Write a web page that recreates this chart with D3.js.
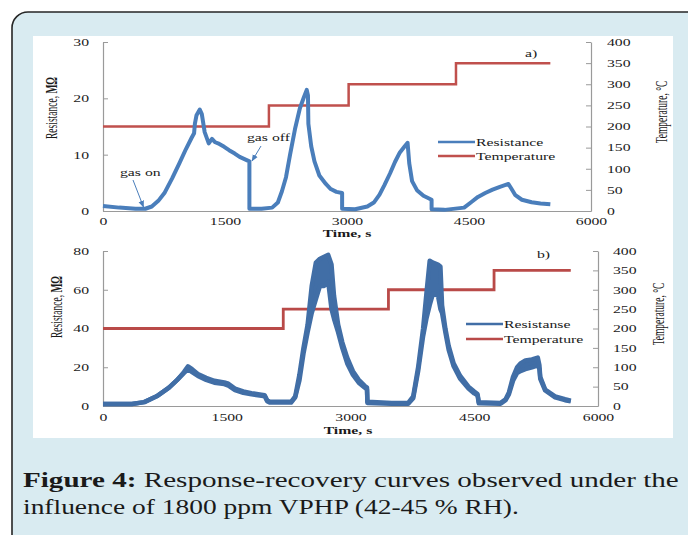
<!DOCTYPE html>
<html>
<head>
<meta charset="utf-8">
<script src="https://cdn.jsdelivr.net/npm/d3@7"></script>
<style>
  html, body { margin: 0; padding: 0; background: #ffffff; }
  svg { display: block; }
  text { font-family: "Liberation Serif", "Times New Roman", serif; }
</style>
</head>
<body>
<svg id="fig" width="688" height="535"></svg>
<script>
// ---------- tick labels ----------
const timeTicks = [0, 1500, 3000, 4500, 6000];
const resTicksA = [0, 10, 20, 30];
const resTicksB = [0, 20, 40, 60, 80];
const tempTicks = [0, 50, 100, 150, 200, 250, 300, 350, 400];

// ---------- panel a: resistance (MΩ) vs time (s) ----------
const timeA = [0, 200, 400, 520, 600, 680, 760, 850, 940, 1020, 1090, 1120, 1130, 1150, 1190, 1215,
  1250, 1300, 1340, 1380, 1430, 1490, 1550, 1620, 1680, 1740, 1800, 1800, 1950, 2080, 2150, 2200,
  2250, 2300, 2360, 2420, 2470, 2505, 2520, 2525, 2560, 2600, 2660, 2740, 2800, 2870, 2940, 2940,
  3100, 3250, 3330, 3400, 3460, 3530, 3590, 3650, 3710, 3745, 3765, 3800, 3860, 3940, 4040, 4040,
  4200, 4440, 4530, 4610, 4700, 4790, 4880, 4985, 5020, 5070, 5150, 5270, 5380, 5500];
const resA = [0.9, 0.6, 0.4, 0.4, 0.8, 1.8, 3.3, 5.8, 8.5, 11.0, 13.0, 13.8, 15.5, 17.0, 18.0, 17.2,
  14.0, 12.0, 12.8, 12.2, 11.9, 11.4, 10.8, 10.2, 9.6, 9.2, 8.8, 0.4, 0.4, 0.6, 1.5, 3.5,
  6.0, 10.0, 14.5, 18.2, 20.2, 21.5, 20.5, 15.5, 11.5, 8.8, 6.3, 4.8, 3.9, 3.4, 3.2, 0.4,
  0.3, 0.8, 1.5, 2.9, 4.6, 6.7, 8.7, 10.4, 11.5, 12.1, 8.5, 5.3, 3.7, 2.7, 2.0, 0.3,
  0.2, 0.6, 1.6, 2.5, 3.2, 3.8, 4.3, 4.8, 4.0, 2.8, 2.0, 1.55, 1.35, 1.2];
// panel a: heater temperature (°C), step changes
const tempTimeA = [0, 2040, 3020, 4340, 5500];
const tempA = [200, 250, 300, 350, 350];

// ---------- panel b: resistance band (upper / lower envelope, MΩ) ----------
const timeB = [0, 350, 500, 650, 800, 900, 980, 1030, 1080, 1150, 1250, 1350, 1470, 1520, 1600,
  1700, 1800, 1900, 1960, 1990, 2020, 2280, 2330, 2380, 2430, 2480, 2530, 2580, 2630, 2680, 2730,
  2770, 2800, 2850, 2900, 2960, 3030, 3100, 3170, 3200, 3205, 3500, 3700, 3760, 3820, 3880, 3920,
  3960, 4000, 4060, 4090, 4110, 4150, 4190, 4250, 4330, 4430, 4500, 4540, 4555, 4820, 4880, 4920,
  4970, 5020, 5060, 5120, 5200, 5270, 5290, 5300, 5360, 5480, 5600, 5670];
const resUpperB = [1.0, 1.0, 2.0, 5.0, 9.5, 13.5, 17.5, 20.5, 19.0, 16.5, 14.5, 13.0, 12.2, 11.5, 9.0,
  7.5, 6.6, 6.0, 5.6, 3.0, 2.2, 2.2, 5.0, 16, 30, 42, 62, 74, 76, 77, 78,
  73, 57, 42, 33, 25, 18, 13.5, 10.5, 9.5, 2.2, 1.6, 1.6, 5.0, 20, 40, 58,
  75, 74, 73, 72, 52, 40, 31, 22, 15.5, 10, 7.5, 6.2, 2.0, 1.6, 3.5, 7.0,
  15, 20, 22, 23.5, 24, 25, 21, 15, 8.5, 5.0, 3.5, 2.7];
const resLowerB = [1.0, 1.0, 2.0, 5.0, 9.5, 13.5, 17.0, 19.0, 17.5, 15.5, 13.5, 12.0, 11.3, 10.5, 8.2,
  6.8, 6.0, 5.4, 5.0, 2.5, 1.8, 1.8, 4.5, 13, 27, 38, 48, 55, 62, 62, 64,
  50, 45, 38, 30, 22, 16, 12, 9.5, 8.5, 1.6, 1.2, 1.2, 4.0, 18, 36, 45,
  52, 58, 57, 50, 48, 38, 29, 20.5, 14, 9, 6.5, 5.5, 1.4, 1.2, 3.0, 6.0,
  13, 17, 18, 19, 20, 21, 19, 14, 8.0, 4.5, 3.0, 2.4];
// panel b: heater temperature (°C)
const tempTimeB = [0, 2185, 3460, 4740, 5670];
const tempB = [200, 250, 300, 350, 350];

// ---------- caption ----------
const captionBold = "Figure 4:";
const captionRest = " Response-recovery curves observed under the";
const captionLine2 = "influence of 1800 ppm VPHP (42-45 % RH).";

// ---------- drawing ----------
const SX = 1.5;            // horizontal stretch of chart lettering
const SXV = 1.8;           // stretch across the rotated axis titles
const FS = 10.5;           // chart font size
const AXIS_GREY = "#9a9a9a";

const svg = d3.select("#fig");

// frame
svg.append("rect").attr("x", 12).attr("y", 12).attr("width", 760).attr("height", 620)
  .attr("rx", 16).attr("fill", "#d9ebf1").attr("stroke", "#262626").attr("stroke-width", 1.6);
svg.append("rect").attr("x", 33).attr("y", 36).attr("width", 640).attr("height", 402)
  .attr("fill", "#ffffff");

const defs = svg.append("defs");
defs.append("marker").attr("id", "arrowBlue").attr("viewBox", "0 0 10 10")
  .attr("refX", 9).attr("refY", 5).attr("markerWidth", 7).attr("markerHeight", 7)
  .attr("orient", "auto").attr("markerUnits", "userSpaceOnUse")
  .append("path").attr("d", "M0,1 L10,5 L0,9 z").attr("fill", "#4a7ebb");

function hText(g, x, y, str, anchor, size, weight) {
  return g.append("text")
    .attr("transform", `translate(${x},${y}) scale(${SX},1)`)
    .attr("text-anchor", anchor || "start")
    .attr("font-size", size || FS)
    .attr("font-weight", weight || "normal")
    .attr("fill", "#1a1a1a")
    .text(str);
}

function vText(g, x, y, size) {
  return g.append("text")
    .attr("transform", `translate(${x},${y}) scale(${SXV},1) rotate(-90)`)
    .attr("text-anchor", "middle")
    .attr("font-size", size)
    .attr("fill", "#1a1a1a");
}

function drawPanel(p) {
  const g = svg.append("g");
  const x = d3.scaleLinear().domain([0, 6000]).range([p.left, p.right]);
  const yR = d3.scaleLinear().domain([0, p.resMax]).range([p.bottom, p.top]);
  const yT = d3.scaleLinear().domain([0, 400]).range([p.bottom, p.top]);
  const fmt = d3.format("d");

  const styleAxis = sel => {
    sel.select(".domain").attr("stroke", AXIS_GREY).attr("stroke-width", 1.2);
    sel.selectAll(".tick line").attr("stroke", AXIS_GREY);
    sel.selectAll("text").attr("font-family", "Liberation Serif").attr("font-size", FS)
      .attr("fill", "#1a1a1a");
  };

  const gl = g.append("g").attr("transform", `translate(${p.left},0)`)
    .call(d3.axisLeft(yR).tickValues(p.resTicks).tickFormat(fmt).tickSize(-5).tickSizeOuter(0));
  styleAxis(gl);
  gl.selectAll("text").attr("x", null).attr("dy", "0.32em")
    .attr("transform", `translate(-14,0) scale(${SX},1)`).attr("text-anchor", "end");

  const gr = g.append("g").attr("transform", `translate(${p.right},0)`)
    .call(d3.axisRight(yT).tickValues(tempTicks).tickFormat(fmt).tickSize(-5).tickSizeOuter(0));
  styleAxis(gr);
  gr.selectAll("text").attr("x", null).attr("dy", "0.32em")
    .attr("transform", `translate(${p.rightPad},0) scale(${SX},1)`).attr("text-anchor", "start");

  const gb = g.append("g").attr("transform", `translate(0,${p.bottom})`)
    .call(d3.axisBottom(x).tickValues(timeTicks).tickFormat(fmt).tickSize(0).tickSizeOuter(0));
  styleAxis(gb);
  gb.selectAll("text").attr("y", null).attr("dy", "0.32em")
    .attr("transform", `translate(0,${p.bottomPad}) scale(${SX},1)`);

  // temperature steps
  const tempLine = d3.line().x((d, i) => x(p.tempTime[i])).y(d => yT(d)).curve(d3.curveStepAfter);
  g.append("path").datum(p.temp).attr("d", tempLine)
    .attr("fill", "none").attr("stroke", p.red).attr("stroke-width", p.redWidth);

  // resistance
  const idx = d3.range(p.time.length);
  if (p.lower) {
    const band = d3.area().x(i => x(p.time[i])).y0(i => yR(p.lower[i])).y1(i => yR(p.upper[i]));
    g.append("path").datum(idx).attr("d", band).attr("fill", p.blue).attr("stroke", "none");
    const lo = d3.line().x(i => x(p.time[i])).y(i => yR(p.lower[i]));
    g.append("path").datum(idx).attr("d", lo).attr("fill", "none")
      .attr("stroke", p.blue).attr("stroke-width", p.blueWidth).attr("stroke-linejoin", "round");
  }
  const up = d3.line().x(i => x(p.time[i])).y(i => yR(p.upper[i]));
  g.append("path").datum(idx).attr("d", up).attr("fill", "none")
    .attr("stroke", p.blue).attr("stroke-width", p.blueWidth).attr("stroke-linejoin", "round");

  // titles
  const tl = vText(g, p.leftTitleX, p.leftTitleY, 9.5);
  tl.append("tspan").text("Resistance, ");
  tl.append("tspan").attr("font-weight", "bold").text("MΩ");
  vText(g, p.rightTitleX, p.rightTitleY, 9.5).text("Temperature, °C");
  hText(g, p.timeTitleX, p.timeTitleY, "Time, s", "middle", FS, "bold");
  hText(g, p.tagX, p.tagY, p.tag, "start", FS);

  // legend
  p.legend.forEach((name, i) => {
    const ly = p.legendY + i * p.legendGap;
    g.append("line").attr("x1", p.legendX).attr("x2", p.legendX + 37)
      .attr("y1", ly).attr("y2", ly)
      .attr("stroke", i === 0 ? p.blue : p.red).attr("stroke-width", 2.5);
    hText(g, p.legendX + 38, ly + 3.5, name, "start", FS);
  });
  return { g, x, yR };
}

const pa = drawPanel({
  time: timeA, upper: resA, lower: null, tempTime: tempTimeA, temp: tempA,
  resMax: 30, resTicks: resTicksA,
  left: 103, right: 591, top: 42, bottom: 211, rightPad: 16, bottomPad: 11,
  blue: "#4a7ebb", red: "#c0504d", blueWidth: 4, redWidth: 2.5,
  leftTitleX: 57, leftTitleY: 108, rightTitleX: 667, rightTitleY: 112,
  timeTitleX: 347, timeTitleY: 237, tag: "a)", tagX: 525, tagY: 57,
  legend: ["Resistance", "Temperature"], legendX: 438, legendY: 142, legendGap: 14
});

const pb = drawPanel({
  time: timeB, upper: resUpperB, lower: resLowerB, tempTime: tempTimeB, temp: tempB,
  resMax: 80, resTicks: resTicksB,
  left: 103, right: 598, top: 251, bottom: 406, rightPad: 15, bottomPad: 12,
  blue: "#416ea6", red: "#b94a48", blueWidth: 4.5, redWidth: 2.8,
  leftTitleX: 62, leftTitleY: 307, rightTitleX: 664, rightTitleY: 314,
  timeTitleX: 348, timeTitleY: 434, tag: "b)", tagX: 537, tagY: 258,
  legend: ["Resistanse", "Temperature"], legendX: 466, legendY: 324, legendGap: 15
});

// gas on / gas off annotations on panel a
hText(pa.g, 120, 176, "gas on", "start", FS);
pa.g.append("line").attr("x1", 133).attr("y1", 180).attr("x2", 143.5).attr("y2", 207)
  .attr("stroke", "#4a7ebb").attr("stroke-width", 1).attr("marker-end", "url(#arrowBlue)");
hText(pa.g, 247, 141, "gas off", "start", FS);
pa.g.append("line").attr("x1", 261).attr("y1", 146).attr("x2", 252).attr("y2", 161)
  .attr("stroke", "#4a7ebb").attr("stroke-width", 1).attr("marker-end", "url(#arrowBlue)");

// caption, each line fitted to its measure
const cap = svg.append("g").attr("font-family", "Liberation Serif").attr("font-size", 22).attr("fill", "#1a1a1a");
const capLeft = 23, line1Right = 679, line2Right = 519;
const t1 = cap.append("text").attr("x", 0).attr("y", 0);
t1.append("tspan").attr("font-weight", "bold").text(captionBold);
t1.append("tspan").text(captionRest);
const t2 = cap.append("text").attr("x", 0).attr("y", 0).text(captionLine2);
const f1 = (line1Right - capLeft) / t1.node().getComputedTextLength();
const f2 = (line2Right - capLeft) / t2.node().getComputedTextLength();
t1.attr("transform", `translate(${capLeft},487) scale(${f1},1)`);
t2.attr("transform", `translate(${capLeft},514) scale(${f2},1)`);
</script>
</body>
</html>
